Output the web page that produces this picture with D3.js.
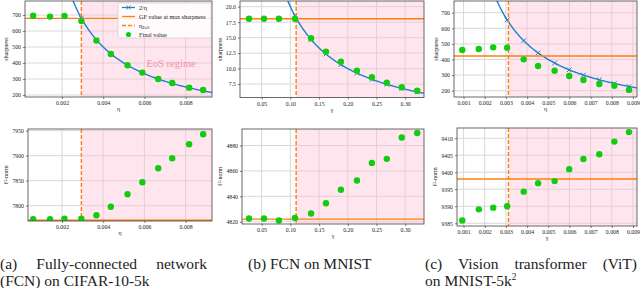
<!DOCTYPE html>
<html>
<head>
<meta charset="utf-8">
<script src="https://cdn.jsdelivr.net/npm/d3@7"></script>
<style>
  body { margin: 0; background: #fff; }
  svg { display: block; }
  text { font-family: "Liberation Serif", "DejaVu Serif", serif; fill: #222; }
</style>
</head>
<body>
<svg id="chart" width="640" height="288"></svg>
<script>
// ---- data ----
// (a) FCN on CIFAR-10-5k
const etaA = [0.0006, 0.00142, 0.00212, 0.00294, 0.00367, 0.00437, 0.00518, 0.0059, 0.00667, 0.00735, 0.00817, 0.00885];
const sharpA = [696, 690, 694, 662, 540, 456, 386, 340, 300, 275, 246, 231];
const normA = [7773, 7773, 7774, 7774, 7781, 7798, 7823, 7847, 7875, 7895, 7923, 7943];
const gfSharpA = 679, gfNormA = 7771, eosA = 0.00294;

// (b) FCN on MNIST
const gammaB = [0.0279, 0.054, 0.080, 0.108, 0.136, 0.162, 0.188, 0.216, 0.242, 0.268, 0.294, 0.321];
const sharpB = [18.06, 18.06, 18.06, 18.06, 14.9, 12.73, 11.1, 9.66, 8.6, 7.73, 6.98, 6.43];
const normB = [4822.5, 4822.5, 4821, 4823, 4826.5, 4834.5, 4845.2, 4852.5, 4866.3, 4869.5, 4886.3, 4889.8];
const gfSharpB = 18.06, gfNormB = 4822, eosB = 0.110;

// (c) ViT on MNIST-5k
const etaC = [0.00094, 0.00172, 0.0024, 0.00306, 0.00384, 0.00452, 0.0053, 0.00599, 0.00666, 0.00741, 0.00812, 0.00881];
const sharpC = [461, 467, 478, 476, 401, 358, 328, 294, 269, 243, 232, 205];
const normC = [9385.8, 9389.1, 9389.6, 9390, 9394.3, 9396.8, 9397.4, 9400.9, 9403.9, 9405.3, 9409, 9411.8];
const gfSharpC = 422, gfNormC = 9398, eosC = 0.00312;

// ticks
const ticksEta4 = [0.002, 0.004, 0.006, 0.008];
const ticksGamma = [0.05, 0.10, 0.15, 0.20, 0.25, 0.30];
const ticksEta9 = [0.001, 0.002, 0.003, 0.004, 0.005, 0.006, 0.007, 0.008, 0.009];
const ticksSharpA = [200, 300, 400, 500, 600, 700];
const ticksSharpB = [7.5, 10.0, 12.5, 15.0, 17.5, 20.0];
const ticksNormA = [7800, 7850, 7900, 7950];
const ticksNormB = [4820, 4840, 4860, 4880];
const ticksNormC = [9385, 9390, 9395, 9400, 9405, 9410];

const legendLabels = ["2/η", "GF value at max sharpness", "η_EoS", "Final value"];

const BLUE = "#1f80d0", ORANGE = "#ff7f0e", GREEN = "#11cc11";

const svg = d3.select("#chart");
let clipId = 0;

function drawPanel(o) {
  const x = d3.scaleLinear().domain(o.xDom).range([o.l, o.r]);
  const y = d3.scaleLinear().domain(o.yDom).range([o.b, o.t]);
  const g = svg.append("g");
  const id = "clip" + (clipId++);
  svg.append("clipPath").attr("id", id)
    .append("rect").attr("x", o.l).attr("y", o.t).attr("width", o.r - o.l).attr("height", o.b - o.t);

  const inner = g.append("g").attr("clip-path", `url(#${id})`);

  // grid
  inner.selectAll(".gx").data(o.xTicks).enter().append("line")
    .attr("x1", d => x(d)).attr("x2", d => x(d)).attr("y1", o.t).attr("y2", o.b)
    .attr("stroke", "#d4d4d4").attr("stroke-width", 0.9);
  inner.selectAll(".gy").data(o.yTicks).enter().append("line")
    .attr("y1", d => y(d)).attr("y2", d => y(d)).attr("x1", o.l).attr("x2", o.r)
    .attr("stroke", "#d4d4d4").attr("stroke-width", 0.9);

  // EoS region
  inner.append("rect")
    .attr("x", x(o.eos)).attr("y", o.t).attr("width", o.r - x(o.eos)).attr("height", o.b - o.t)
    .attr("fill", "#ffbfd2").attr("opacity", 0.4);

  if (o.label) {
    inner.append("text").attr("x", x(o.label.x)).attr("y", y(o.label.y))
      .attr("font-size", 10.5).style("fill", "#f590aa").text("EoS regime");
  }

  // 2/eta curve and markers
  if (o.curve) {
    const xs = d3.range(0, 301).map(i => o.xDom[0] + (o.xDom[1] - o.xDom[0]) * i / 300);
    inner.append("path").datum(xs)
      .attr("d", d3.line().x(d => x(d)).y(d => y(2 / d)))
      .attr("fill", "none").attr("stroke", BLUE).attr("stroke-width", 1.4);
    inner.selectAll(".xm").data(o.xs).enter().append("path")
      .attr("transform", d => `translate(${x(d)},${y(2 / d)})`)
      .attr("d", "M-2.3,-2.3L2.3,2.3M-2.3,2.3L2.3,-2.3")
      .attr("stroke", BLUE).attr("stroke-width", 1);
  }

  // GF value line
  inner.append("line").attr("x1", o.l).attr("x2", o.r)
    .attr("y1", y(o.gf)).attr("y2", y(o.gf))
    .attr("stroke", ORANGE).attr("stroke-width", 1.4);
  // EoS threshold
  inner.append("line").attr("x1", x(o.eos)).attr("x2", x(o.eos))
    .attr("y1", o.t).attr("y2", o.b)
    .attr("stroke", ORANGE).attr("stroke-width", 1.4).attr("stroke-dasharray", "4,2");

  // final values
  inner.selectAll(".pt").data(o.xs.map((d, i) => [d, o.ys[i]])).enter().append("circle")
    .attr("cx", d => x(d[0])).attr("cy", d => y(d[1])).attr("r", 3.2)
    .attr("fill", GREEN);

  // frame
  g.append("rect").attr("x", o.l).attr("y", o.t).attr("width", o.r - o.l).attr("height", o.b - o.t)
    .attr("fill", "none").attr("stroke", "#444").attr("stroke-width", 0.8);

  // axes
  const ax = g.append("g").attr("transform", `translate(0,${o.b})`)
    .call(d3.axisBottom(x).tickValues(o.xTicks).tickFormat(d3.format(o.xFmt)).tickSize(2).tickPadding(2));
  const ay = g.append("g").attr("transform", `translate(${o.l},0)`)
    .call(d3.axisLeft(y).tickValues(o.yTicks).tickFormat(d3.format(o.yFmt)).tickSize(2).tickPadding(2));
  [ax, ay].forEach(a => {
    a.select(".domain").remove();
    a.selectAll("line").attr("stroke", "#444").attr("stroke-width", 0.7);
    a.selectAll("text").attr("font-size", 5.8).style("font-family", "Liberation Serif, serif");
  });

  g.append("text").attr("x", (o.l + o.r) / 2).attr("y", o.b + 14)
    .attr("text-anchor", "middle").attr("font-size", 6).text(o.xLabel);
  g.append("text").attr("transform", `translate(${o.yLabelX},${(o.t + o.b) / 2}) rotate(-90)`)
    .attr("text-anchor", "middle").attr("font-size", 6).text(o.yLabel);

  if (o.legend) {
    const lg = g.append("g").attr("transform", "translate(118,3)");
    lg.append("rect").attr("width", 93).attr("height", 35).attr("rx", 1.5)
      .attr("fill", "#fff").attr("fill-opacity", 0.85).attr("stroke", "#ccc").attr("stroke-width", 0.7);
    legendLabels.forEach((t, i) => {
      const yy = 4.5 + i * 9;
      const row = lg.append("g").attr("transform", `translate(0,${yy})`);
      if (i === 0) {
        row.append("line").attr("x1", 4).attr("x2", 17).attr("stroke", BLUE).attr("stroke-width", 1.3);
        row.append("path").attr("d", "M8.5,-2L12.5,2M8.5,2L12.5,-2").attr("stroke", BLUE).attr("stroke-width", 0.9);
      } else if (i === 1) {
        row.append("line").attr("x1", 4).attr("x2", 17).attr("stroke", ORANGE).attr("stroke-width", 1.3);
      } else if (i === 2) {
        row.append("line").attr("x1", 4).attr("x2", 17).attr("stroke", ORANGE).attr("stroke-width", 1.3)
          .attr("stroke-dasharray", "4,2");
      } else {
        row.append("circle").attr("cx", 10.5).attr("r", 2.6).attr("fill", GREEN);
      }
      const tx = row.append("text").attr("x", 21).attr("y", 2).attr("font-size", 6.2);
      if (i === 2) {
        tx.text("η");
        tx.append("tspan").attr("font-size", 4.2).attr("dy", 1.5).text("EoS");
      } else {
        tx.text(t);
      }
    });
  }
}

// top row: sharpness
drawPanel({ l: 25, r: 212, t: 1, b: 97, xDom: [0.000204, 0.00928], yDom: [187.5, 787.5],
  xTicks: ticksEta4, xFmt: ".3f", yTicks: ticksSharpA, yFmt: "d",
  xs: etaA, ys: sharpA, gf: gfSharpA, eos: eosA, curve: true, legend: true,
  label: { x: 0.0061, y: 377 }, xLabel: "η", yLabel: "sharpness", yLabelX: 8 });
drawPanel({ l: 240, r: 424, t: 1, b: 97.5, xDom: [0.0122, 0.3328], yDom: [5.33, 20.92],
  xTicks: ticksGamma, xFmt: ".2f", yTicks: ticksSharpB, yFmt: ".1f",
  xs: gammaB, ys: sharpB, gf: gfSharpB, eos: eosB, curve: true,
  xLabel: "γ", yLabel: "sharpness", yLabelX: 222 });
drawPanel({ l: 454, r: 637, t: 1, b: 97, xDom: [0.00055, 0.00919], yDom: [159.6, 775],
  xTicks: ticksEta9, xFmt: ".3f", yTicks: ticksSharpA, yFmt: "d",
  xs: etaC, ys: sharpC, gf: gfSharpC, eos: eosC, curve: true,
  xLabel: "η", yLabel: "sharpness", yLabelX: 438 });

// bottom row: l2-norm
drawPanel({ l: 28, r: 212, t: 129, b: 221, xDom: [0.00035, 0.00928], yDom: [7769.4, 7953.4],
  xTicks: ticksEta4, xFmt: ".3f", yTicks: ticksNormA, yFmt: "d",
  xs: etaA, ys: normA, gf: gfNormA, eos: eosA,
  xLabel: "η", yLabel: "ℓ²-norm", yLabelX: 8 });
drawPanel({ l: 242, r: 424, t: 129, b: 224, xDom: [0.0157, 0.3328], yDom: [4818.2, 4893],
  xTicks: ticksGamma, xFmt: ".2f", yTicks: ticksNormB, yFmt: "d",
  xs: gammaB, ys: normB, gf: gfNormB, eos: eosB,
  xLabel: "γ", yLabel: "ℓ²-norm", yLabelX: 222 });
drawPanel({ l: 457, r: 637, t: 128, b: 226, xDom: [0.00069, 0.00919], yDom: [9384.2, 9413.0],
  xTicks: ticksEta9, xFmt: ".3f", yTicks: ticksNormC, yFmt: "d",
  xs: etaC, ys: normC, gf: gfNormC, eos: eosC,
  xLabel: "γ", yLabel: "ℓ²-norm", yLabelX: 437 });

// captions (first lines justified word by word)
const cap = svg.append("g").attr("font-size", 15.5);
function justify(words, x0, x1, yy) {
  const nodes = words.map(w => cap.append("text").attr("y", yy).text(w));
  const widths = nodes.map(n => n.node().getComputedTextLength());
  const gap = (x1 - x0 - d3.sum(widths)) / (words.length - 1);
  let cx = x0;
  nodes.forEach((n, i) => { n.attr("x", cx); cx += widths[i] + gap; });
}
justify(["(a)", "Fully-connected", "network"], 0, 207, 269);
cap.append("text").attr("x", 0).attr("y", 286).text("(FCN) on CIFAR-10-5k");
cap.append("text").attr("x", 248).attr("y", 269).text("(b) FCN on MNIST");
justify(["(c)", "Vision", "transformer", "(ViT)"], 425, 637, 269);
const c2 = cap.append("text").attr("x", 425).attr("y", 286).text("on MNIST-5k");
c2.append("tspan").attr("font-size", 9.5).attr("dy", -6).text("2");
</script>
</body>
</html>
